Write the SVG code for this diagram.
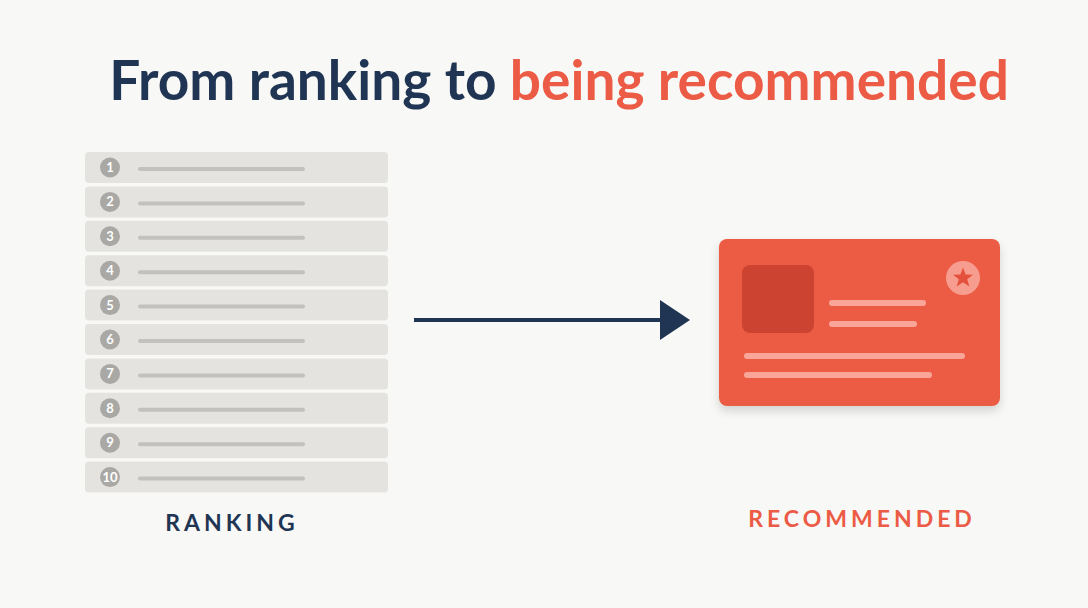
<svg xmlns="http://www.w3.org/2000/svg" width="1088" height="608" viewBox="0 0 1088 608">
<style>
.row{fill:#e4e3e0}
.num{fill:#a9a8a5}
.nt{font-family:Lato,"Liberation Sans",sans-serif;font-size:13px;fill:#fff;text-anchor:middle;font-weight:700}
.bar{stroke:#c2c1be;stroke-width:4;stroke-linecap:round}
.cl{stroke:#f9a597;stroke-width:6;stroke-linecap:round}
.lab{font-family:Lato,"Liberation Sans",sans-serif;font-size:23px;font-weight:700;letter-spacing:4px;text-anchor:middle}
</style>
<defs>
<filter id="sh" x="-10%" y="-10%" width="120%" height="130%"><feDropShadow dx="0" dy="5" stdDeviation="5" flood-color="#000" flood-opacity="0.15"/></filter>
<marker id="ah" markerWidth="30" markerHeight="40" refX="0" refY="20" orient="auto" markerUnits="userSpaceOnUse"><path d="M0,0 L30,20 L0,40 Z" fill="#1f3553"/></marker>
</defs>
<rect width="1088" height="608" fill="#f8f8f6"/>
<text x="559" y="100" font-family="Lato,'Liberation Sans',sans-serif" font-size="55" font-weight="700" text-anchor="middle"><tspan fill="#1f3553">From ranking to </tspan><tspan fill="#ec5b45">being recommended</tspan></text>
<g id="ranking">
<g><rect class="row" x="85" y="152" width="303" height="31" rx="4"/><circle class="num" cx="110" cy="167.5" r="10"/><text class="nt" x="110" y="172">1</text><line class="bar" x1="140" y1="169" x2="303" y2="169"/></g>
<g><rect class="row" x="85" y="186.4" width="303" height="31" rx="4"/><circle class="num" cx="110" cy="201.9" r="10"/><text class="nt" x="110" y="206.4">2</text><line class="bar" x1="140" y1="203.4" x2="303" y2="203.4"/></g>
<g><rect class="row" x="85" y="220.8" width="303" height="31" rx="4"/><circle class="num" cx="110" cy="236.3" r="10"/><text class="nt" x="110" y="240.8">3</text><line class="bar" x1="140" y1="237.8" x2="303" y2="237.8"/></g>
<g><rect class="row" x="85" y="255.2" width="303" height="31" rx="4"/><circle class="num" cx="110" cy="270.7" r="10"/><text class="nt" x="110" y="275.2">4</text><line class="bar" x1="140" y1="272.2" x2="303" y2="272.2"/></g>
<g><rect class="row" x="85" y="289.6" width="303" height="31" rx="4"/><circle class="num" cx="110" cy="305.1" r="10"/><text class="nt" x="110" y="309.6">5</text><line class="bar" x1="140" y1="306.6" x2="303" y2="306.6"/></g>
<g><rect class="row" x="85" y="324" width="303" height="31" rx="4"/><circle class="num" cx="110" cy="339.5" r="10"/><text class="nt" x="110" y="344">6</text><line class="bar" x1="140" y1="341" x2="303" y2="341"/></g>
<g><rect class="row" x="85" y="358.4" width="303" height="31" rx="4"/><circle class="num" cx="110" cy="373.9" r="10"/><text class="nt" x="110" y="378.4">7</text><line class="bar" x1="140" y1="375.4" x2="303" y2="375.4"/></g>
<g><rect class="row" x="85" y="392.8" width="303" height="31" rx="4"/><circle class="num" cx="110" cy="408.3" r="10"/><text class="nt" x="110" y="412.8">8</text><line class="bar" x1="140" y1="409.8" x2="303" y2="409.8"/></g>
<g><rect class="row" x="85" y="427.2" width="303" height="31" rx="4"/><circle class="num" cx="110" cy="442.7" r="10"/><text class="nt" x="110" y="447.2">9</text><line class="bar" x1="140" y1="444.2" x2="303" y2="444.2"/></g>
<g><rect class="row" x="85" y="461.6" width="303" height="31" rx="4"/><circle class="num" cx="110" cy="477.1" r="10"/><text class="nt" x="110" y="481.6" font-size="12">10</text><line class="bar" x1="140" y1="478.6" x2="303" y2="478.6"/></g>
<text class="lab" x="232" y="531" fill="#1f3553">RANKING</text>
</g>
<g id="connectors"><line x1="414" y1="320" x2="660" y2="320" stroke="#1f3553" stroke-width="4" marker-end="url(#ah)"/></g>
<g id="recommended">
<rect x="719" y="239" width="281" height="167" rx="8" fill="#ec5b45" filter="url(#sh)"/>
<rect x="742" y="265" width="72" height="68" rx="8" fill="#cc4431"/>
<circle cx="963" cy="278" r="17" fill="#f69d8f"/>
<path d="M963,267.5 L965.6,274.6 L973,274.8 L967.2,279.3 L969.3,286.5 L963,282.3 L956.7,286.5 L958.8,279.3 L953,274.8 L960.4,274.6 Z" fill="#e4503c"/>
<line class="cl" x1="832" y1="303" x2="923" y2="303"/>
<line class="cl" x1="832" y1="324" x2="914" y2="324"/>
<line class="cl" x1="747" y1="356" x2="962" y2="356"/>
<line class="cl" x1="747" y1="375" x2="929" y2="375"/>
<text class="lab" x="862" y="527" fill="#ec5b45">RECOMMENDED</text>
</g>
</svg>
